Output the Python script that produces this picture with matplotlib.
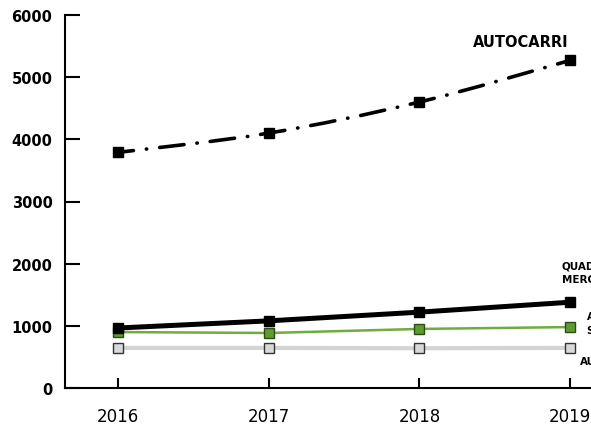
import matplotlib
matplotlib.use("Agg")
import matplotlib.pyplot as plt
from matplotlib.path import Path
from matplotlib.patches import PathPatch

years = [2016, 2017, 2018, 2019]
autocarri = [3790, 4100, 4600, 5270]
quadricicli_merci = [965, 1080, 1220, 1380]
autoveicoli_speciali = [900, 885, 950, 980]
autobus = [645, 645, 640, 645]

y_ticks = [0, 1000, 2000, 3000, 4000, 5000, 6000]


def smooth_path(xs, ys):
    # Catmull-Rom style cubic segments through the points
    pts = list(zip(xs, ys))
    verts = [pts[0]]
    codes = [Path.MOVETO]
    n = len(pts)
    for i in range(n - 1):
        p0 = pts[max(i - 1, 0)]
        p1 = pts[i]
        p2 = pts[i + 1]
        p3 = pts[min(i + 2, n - 1)]
        c1 = (p1[0] + (p2[0] - p0[0]) / 6, p1[1] + (p2[1] - p0[1]) / 6)
        c2 = (p2[0] - (p3[0] - p1[0]) / 6, p2[1] - (p3[1] - p1[1]) / 6)
        verts += [c1, c2, p2]
        codes += [Path.CURVE4] * 3
    return Path(verts, codes)


fig = plt.figure(figsize=(5.91, 4.27), dpi=100)
ax = fig.add_axes([65 / 591, 1 - 389 / 427, 580 / 591, 373 / 427])

# autobus (light grey)
ax.plot(years, autobus, color="#d4d4d4", lw=3, zorder=2,
        marker="s", ms=7.5, mfc="#d9d9d9", mec="#333333", mew=1)
# autoveicoli speciali (green)
ax.plot(years, autoveicoli_speciali, color="#6fad3e", lw=1.8, zorder=3,
        marker="s", ms=7.5, mfc="#5e9c30", mec="#2d4a18", mew=1)
# quadricicli merci (thick black)
ax.plot(years, quadricicli_merci, color="black", lw=3.6, zorder=4,
        marker="s", ms=7.5, mfc="black", mec="black")

# autocarri: smooth dash-dot curve
curve = PathPatch(smooth_path(years, autocarri), fill=False, edgecolor="black",
                  lw=2.6, linestyle=(2.5, (6.8, 3.6, 0.1, 3.6)), zorder=4)
curve.set_capstyle("round")
ax.add_patch(curve)
ax.plot(years, autocarri, ls="none", marker="s", ms=6.5, color="black", zorder=5)

ax.text(2018.67, 5570, "AUTOCARRI", ha="center", va="center",
        fontsize=10.5, fontweight="bold")
ax.text(2018.946, 1860, "QUADRICICLI\nMERCI", ha="left", va="center",
        fontsize=7.5, fontweight="bold", linespacing=1.5)
ax.text(2019.11, 1040, "AUTOVEICOLI\nSPECIALI", ha="left", va="center",
        fontsize=7.5, fontweight="bold", linespacing=1.5)
ax.text(2019.065, 430, "AUTOBUS", ha="left", va="center",
        fontsize=7.5, fontweight="bold")

ax.set_xlim(2016 - 53 / 150.7, 2016 + 527 / 150.7)
ax.set_ylim(0, 6000)
ax.set_xticks(years)
ax.set_xticklabels([str(y) for y in years])
ax.set_yticks(y_ticks)
ax.set_yticklabels([str(v) for v in y_ticks], fontweight="bold", fontsize=10.5)

for side in ["top", "right"]:
    ax.spines[side].set_visible(False)
for side in ["left", "bottom"]:
    ax.spines[side].set_linewidth(1.5)

ax.tick_params(axis="y", direction="in", length=11, width=1.5, pad=9)
ax.tick_params(axis="x", direction="in", length=7, width=1.5, pad=14,
               labelsize=12)

fig.savefig("out.png", dpi=100)
